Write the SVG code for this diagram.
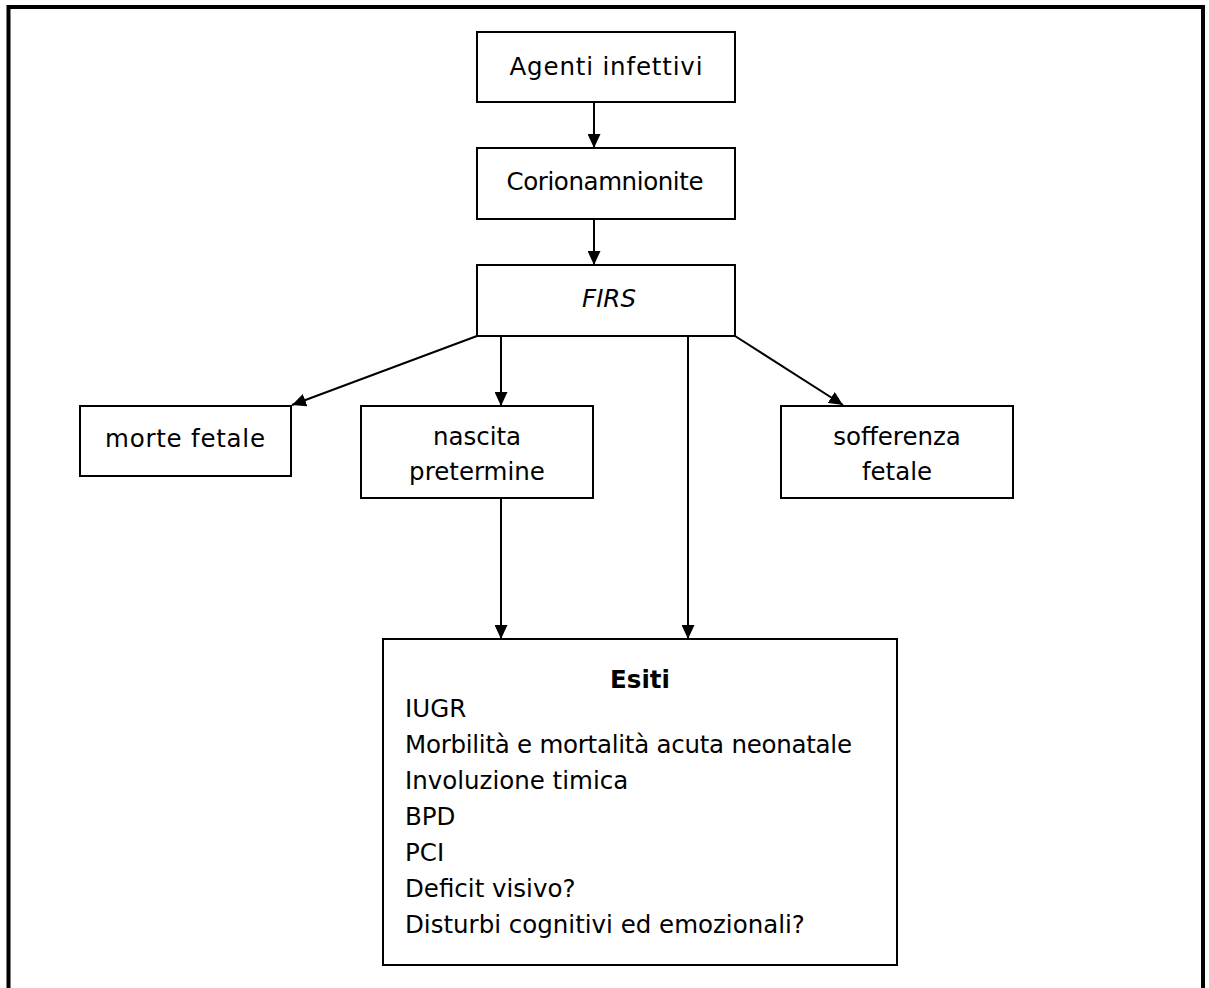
<svg xmlns="http://www.w3.org/2000/svg" width="1209" height="988" viewBox="0 0 1209 988">
<style>
.box{fill:#fff;stroke:#000;stroke-width:2}
.t{font-family:"Comic Sans MS","DejaVu Sans",sans-serif;font-size:24.5px;fill:#000}
.c{text-anchor:middle}
.conn{stroke:#000;stroke-width:2;fill:none}
</style>
<defs>
<marker id="ah" viewBox="0 0 14 13" refX="14" refY="6.5" markerWidth="14" markerHeight="13" markerUnits="userSpaceOnUse" orient="auto">
<path d="M0,0 L14,6.5 L0,13 Z" fill="#000"/>
</marker>
</defs>
<rect x="0" y="0" width="1209" height="988" fill="#fff"/>
<rect x="8.5" y="7" width="1194.5" height="1010" fill="none" stroke="#000" stroke-width="4"/>
<g id="connectors">
<line class="conn" x1="594" y1="102" x2="594" y2="148" marker-end="url(#ah)"/>
<line class="conn" x1="594" y1="219" x2="594" y2="265" marker-end="url(#ah)"/>
<line class="conn" x1="477" y1="336" x2="292" y2="405" marker-end="url(#ah)"/>
<line class="conn" x1="501" y1="336" x2="501" y2="406" marker-end="url(#ah)"/>
<line class="conn" x1="735" y1="336" x2="843" y2="405" marker-end="url(#ah)"/>
<line class="conn" x1="688" y1="336" x2="688" y2="639" marker-end="url(#ah)"/>
<line class="conn" x1="501" y1="498" x2="501" y2="639" marker-end="url(#ah)"/>
</g>
<g id="agenti">
<rect class="box" x="477" y="32" width="258" height="70"/>
<text class="t c" x="606" y="75" textLength="193" lengthAdjust="spacing">Agenti infettivi</text>
</g>
<g id="corion">
<rect class="box" x="477" y="148" width="258" height="71"/>
<text class="t c" x="605" y="190" textLength="197" lengthAdjust="spacing">Corionamnionite</text>
</g>
<g id="firs">
<rect class="box" x="477" y="265" width="258" height="71"/>
<text class="t c" x="609" y="307" font-style="italic" font-size="26px">FIRS</text>
</g>
<g id="morte">
<rect class="box" x="80" y="406" width="211" height="70"/>
<text class="t c" x="185" y="447" textLength="160" lengthAdjust="spacing">morte fetale</text>
</g>
<g id="nascita">
<rect class="box" x="361" y="406" width="232" height="92"/>
<text class="t c" x="477" y="445">nascita</text>
<text class="t c" x="477" y="480">pretermine</text>
</g>
<g id="sofferenza">
<rect class="box" x="781" y="406" width="232" height="92"/>
<text class="t c" x="897" y="445">sofferenza</text>
<text class="t c" x="897" y="480">fetale</text>
</g>
<g id="esiti">
<rect class="box" x="383" y="639" width="514" height="326"/>
<text class="t c" x="640" y="688" font-weight="bold">Esiti</text>
<text class="t" x="405" y="717">IUGR</text>
<text class="t" x="405" y="753" textLength="447" lengthAdjust="spacing">Morbilità e mortalità acuta neonatale</text>
<text class="t" x="405" y="789">Involuzione timica</text>
<text class="t" x="405" y="825">BPD</text>
<text class="t" x="405" y="861">PCI</text>
<text class="t" x="405" y="897">Deficit visivo?</text>
<text class="t" x="405" y="933">Disturbi cognitivi ed emozionali?</text>
</g>
</svg>
